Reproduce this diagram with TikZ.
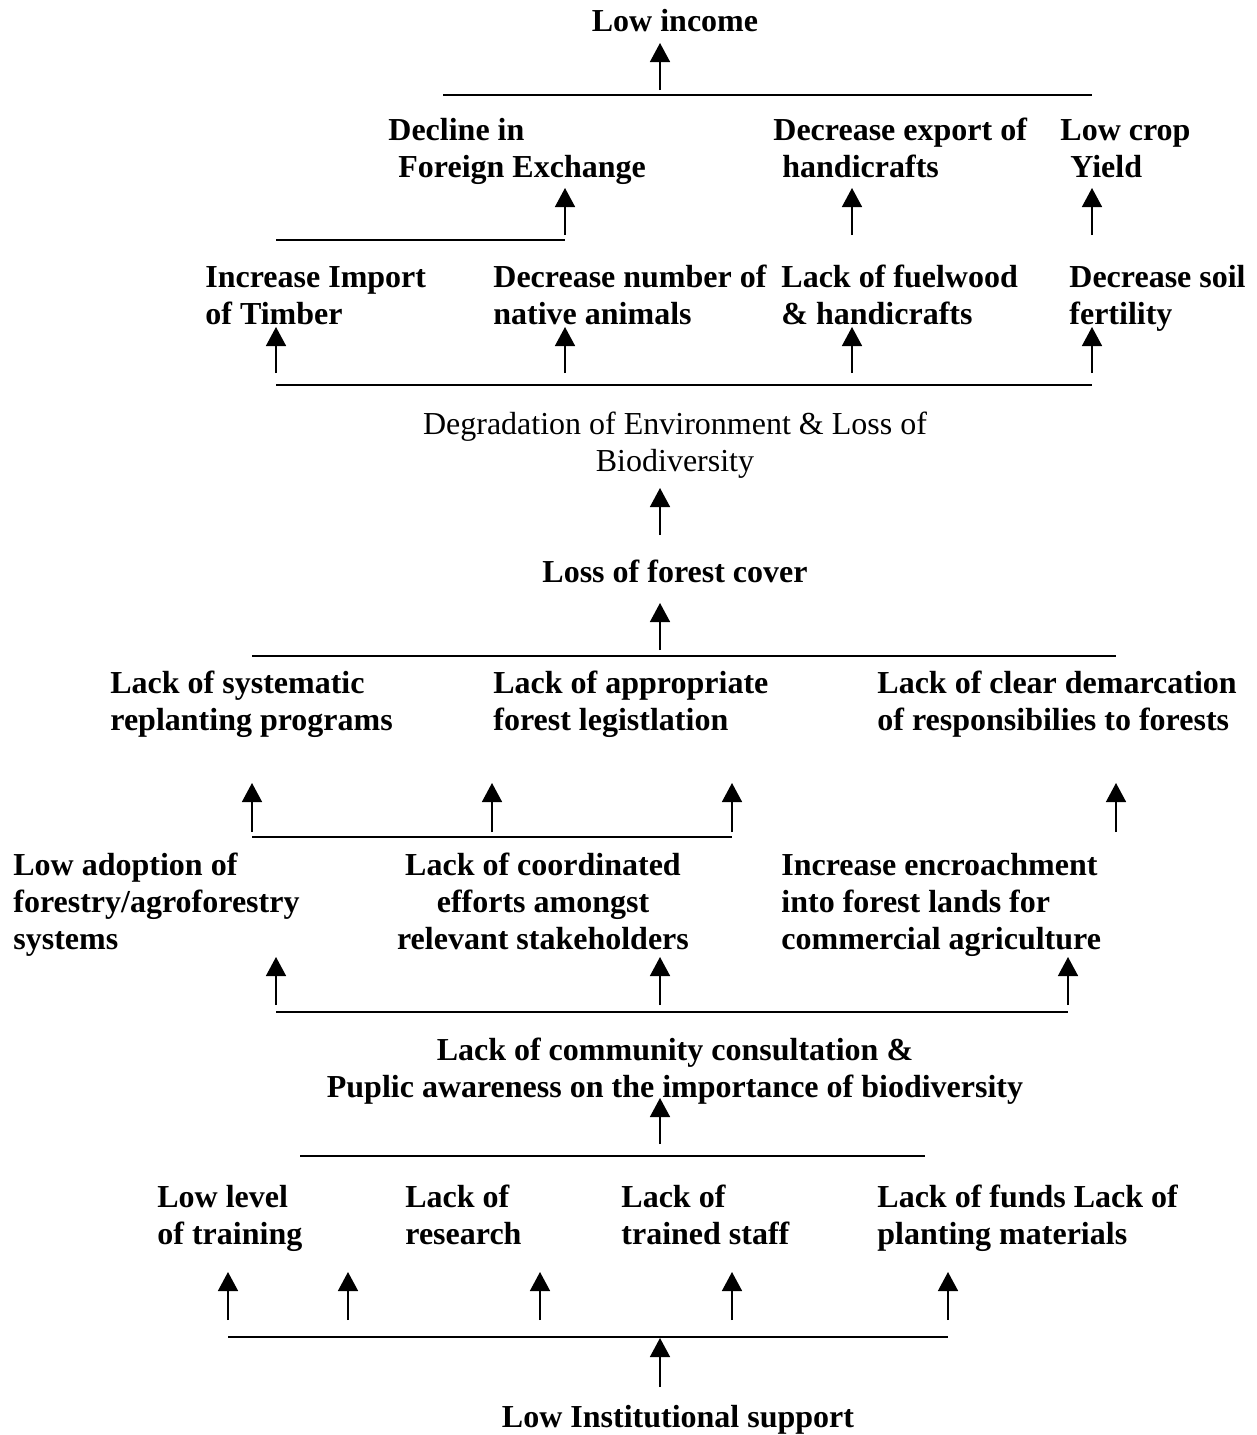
\documentclass[tikz,border=0pt]{standalone}
\usepackage{fontspec}
\setmainfont{Liberation Serif}
\usepackage{tikz}
\usetikzlibrary{arrows.meta}

\begin{document}
\begin{tikzpicture}[x=0.5pt, y=-0.5pt]
      \tikzstyle{every node}=[inner sep=0pt, font=\fontsize{16}{18.5}\selectfont\bfseries]
      \tikzstyle{txt}=[anchor=base west, align=left]
      \tikzstyle{mid}=[anchor=base, align=center]
      \tikzstyle{bar}=[line width=1pt]
      \tikzstyle{up}=[line width=0.75pt, -{Triangle[length=9.5pt, width=10pt]}]
      \useasboundingbox (0,0) rectangle (1257,1435);
      % effects (y = baseline of the last line)
      \node [mid] (income) at (675,31) {Low income};
      \node [txt] (forex) at (388,177) {Decline in\\\hspace*{5pt}Foreign Exchange};
      \node [txt] (export) at (773,177) {Decrease export of\\\hspace*{4.5pt}handicrafts};
      \node [txt] (yield) at (1060,177) {Low crop\\\hspace*{5pt}Yield};
      \node [txt] (timber) at (205,324) {Increase Import\\of Timber};
      \node [txt] (animals) at (493,324) {Decrease number of\\native animals};
      \node [txt] (fuel) at (781,324) {Lack of fuelwood\\\& handicrafts};
      \node [txt] (soil) at (1069,324) {Decrease soil\\fertility};
      \node [mid, font=\fontsize{16}{18.5}\selectfont] (degrade) at (675,471) {Degradation of Environment \& Loss of\\Biodiversity};
      % core problem
      \node [mid] (cover) at (675,582) {Loss of forest cover};
      % causes
      \node [txt] (replant) at (110,730) {Lack of systematic\\replanting programs};
      \node [txt] (legis) at (493,730) {Lack of appropriate\\forest legistlation};
      \node [txt] (demarc) at (877,730) {Lack of clear demarcation\\of responsibilies to forests};
      \node [txt] (adopt) at (13,949) {Low adoption of\\forestry/agroforestry\\systems};
      \node [mid] (coord) at (543,949) {Lack of coordinated\\efforts amongst\\relevant stakeholders};
      \node [txt] (encroach) at (781,949) {Increase encroachment\\into forest lands for\\commercial agriculture};
      \node [mid] (consult) at (675,1097) {Lack of community consultation \&\\Puplic awareness on the importance of biodiversity};
      \node [txt] (training) at (157,1244) {Low level\\of training};
      \node [txt] (research) at (405,1244) {Lack of\\research};
      \node [txt] (staff) at (621,1244) {Lack of\\trained staff};
      \node [txt] (funds) at (877,1244) {Lack of funds Lack of\\planting materials};
      \node [mid] (inst) at (678,1427) {Low Institutional support};

      % bars
      \draw [bar] (443,95) coordinate (b1l) -- (1092,95) coordinate (b1r);
      \draw [bar] (276,240) coordinate (b2l) -- (565,240) coordinate (b2r);
      \draw [bar] (276,385) coordinate (b3l) -- (1092,385) coordinate (b3r);
      \draw [bar] (252,656) coordinate (b4l) -- (1116,656) coordinate (b4r);
      \draw [bar] (252,837) coordinate (b5l) -- (732,837) coordinate (b5r);
      \draw [bar] (276,1012) coordinate (b6l) -- (1068,1012) coordinate (b6r);
      \draw [bar] (300,1156) coordinate (b7l) -- (925,1156) coordinate (b7r);
      \draw [bar] (228,1337) coordinate (b8l) -- (948,1337) coordinate (b8r);

      % arrows
      \draw [up] (660,90) -- (660,43);
      \foreach \x in {565,852,1092}
        \draw [up] (\x,235) -- (\x,188);
      \foreach \x in {276,565,852,1092}
        \draw [up] (\x,373) -- (\x,327);
      \draw [up] (660,535) -- (660,488);
      \draw [up] (660,650) -- (660,603);
      \foreach \x in {252,492,732,1116}
        \draw [up] (\x,832) -- (\x,783);
      \foreach \x in {276,660,1068}
        \draw [up] (\x,1005) -- (\x,957);
      \draw [up] (660,1144) -- (660,1098);
      \foreach \x in {228,348,540,732,948}
        \draw [up] (\x,1320) -- (\x,1272);
      \draw [up] (660,1387) -- (660,1338);
\end{tikzpicture}
\end{document}
